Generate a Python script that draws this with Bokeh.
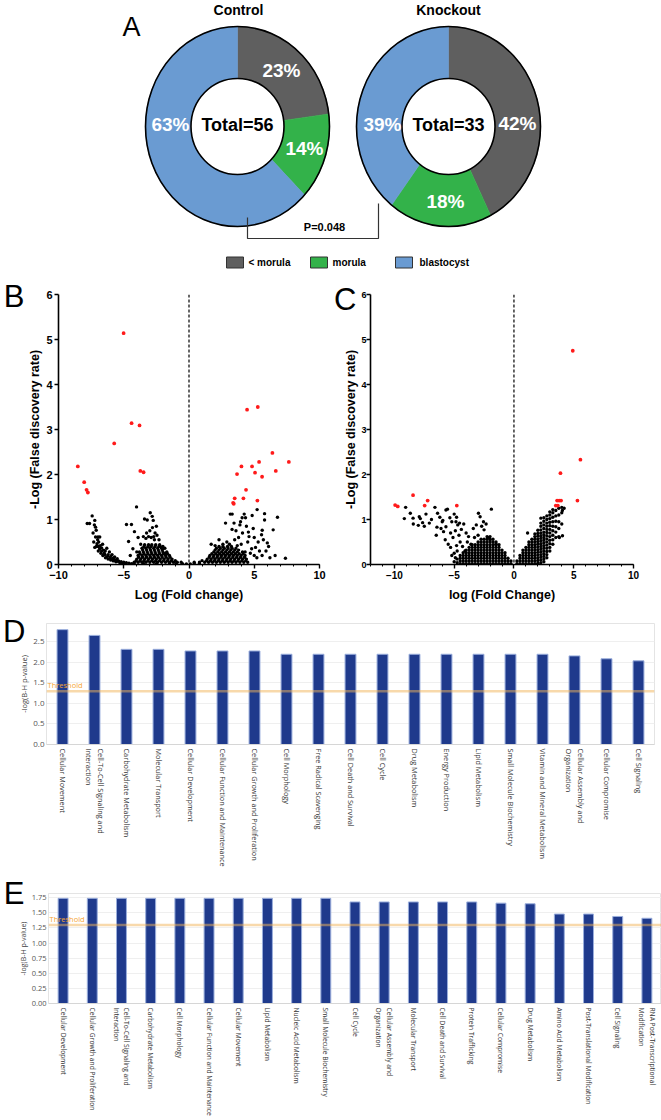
import numpy as np
from bokeh.plotting import figure
from bokeh.layouts import column, row
from bokeh.models import (Range1d, FactorRange, FixedTicker, Span, Label, NumeralTickFormatter,
                          LinearAxis, CustomJSTickFormatter)
from bokeh.core.properties import value
from bokeh.embed import file_html
from bokeh.resources import INLINE

# ------------------------------------------------------------------ data
stages = ["< morula", "morula", "blastocyst"]
stage_colors = ["#5f5f5f", "#33b24a", "#6a9bd2"]
control_pct = [23, 14, 63]
knockout_pct = [42, 18, 39]
control_total = 56
knockout_total = 33
p_text = "P=0.048"

b_red = [(-8.52, 2.18), (-8.03, 1.83), (-7.85, 1.66), (-7.75, 1.60), (-5.01, 5.14), (-5.73, 2.69),
         (-4.40, 3.14), (-3.79, 3.09), (-3.73, 2.08), (-3.48, 2.05), (4.45, 3.44), (5.27, 3.50),
         (6.39, 2.48), (7.65, 2.28), (5.37, 2.28), (4.02, 2.18), (4.83, 2.18), (3.68, 2.01),
         (5.06, 2.04), (6.65, 2.08), (5.60, 1.95), (4.37, 1.66), (3.50, 1.47), (4.17, 1.47),
         (3.38, 1.37), (3.43, 1.35), (5.24, 1.42)]

b_black_sparse = [
    (-7.42, 1.08), (-7.22, 0.98), (-7.80, 0.91), (-7.62, 0.91), (-7.16, 0.83), (-7.11, 0.76), (-7.35, 0.70), (-7.25, 0.88),
    (-7.16, 0.61), (-6.98, 0.61), (-6.84, 0.61), (-7.00, 0.55), (-7.30, 0.50), (-6.92, 0.50), (-7.05, 0.46), (-6.62, 0.45),
    (-6.80, 0.42), (-7.10, 0.40), (-6.95, 0.40), (-7.22, 0.38), (-6.70, 0.37), (-6.30, 0.36), (-6.85, 0.35), (-6.55, 0.32),
    (-6.42, 0.30), (-6.95, 0.30), (-6.70, 0.30), (-6.10, 0.28), (-6.50, 0.25), (-6.75, 0.25), (-6.20, 0.22), (-5.90, 0.22),
    (-6.45, 0.22), (-6.60, 0.20), (-6.00, 0.18), (-6.25, 0.18), (-5.70, 0.17), (-6.40, 0.15), (-5.80, 0.14), (-6.05, 0.14),
    (-5.50, 0.13), (-6.20, 0.12), (-5.85, 0.11), (-5.60, 0.10), (-6.00, 0.10), (-5.65, 0.09), (-5.40, 0.08), (-5.80, 0.08),
    (-5.45, 0.07), (-5.20, 0.06), (-5.60, 0.06), (-5.00, 0.05), (-4.80, 0.04), (-5.30, 0.04), (-4.60, 0.03), (-5.10, 0.03),
    (-4.40, 0.02), (-4.90, 0.02),
    (-4.79, 0.89), (-4.41, 0.89), (-4.02, 1.28), (-4.18, 0.73), (-2.97, 1.15), (-3.41, 1.01), (-3.20, 0.99), (-2.82, 1.07),
    (-2.74, 0.98), (-4.63, 0.51), (-3.90, 0.60), (-3.50, 0.62), (-3.30, 0.58), (-3.10, 0.62), (-2.90, 0.60), (-2.70, 0.62),
    (-2.60, 0.70), (-2.50, 0.85), (-2.65, 0.55), (-3.70, 0.45), (-4.30, 0.35), (-4.00, 0.28), (-2.30, 0.55), (-2.20, 0.40),
    (-2.00, 0.35), (-3.00, 0.75), (-2.80, 0.82), (-3.25, 0.70), (-2.45, 0.65), (-4.50, 0.20), (-1.80, 0.25),
    (7.39, 0.14), (6.78, 1.05), (6.45, 0.77), (5.79, 1.13), (5.79, 0.99), (5.22, 1.22), (4.84, 1.09), (4.23, 1.12),
    (4.33, 1.04), (4.07, 1.04), (3.16, 1.12), (3.31, 1.12), (2.80, 0.92), (4.92, 0.80), (5.61, 0.76), (5.56, 0.66),
    (6.00, 0.48), (6.10, 0.40), (5.90, 0.30), (5.70, 0.55), (5.30, 0.50), (5.00, 0.60), (4.60, 0.62), (4.50, 0.50),
    (4.10, 0.70), (3.80, 0.60), (3.60, 0.75), (3.30, 0.78), (3.90, 0.88), (4.40, 0.85), (5.10, 0.38), (5.40, 0.30),
    (4.80, 0.35), (4.30, 0.28), (2.30, 0.55), (2.60, 0.45), (2.00, 0.42), (1.70, 0.45), (2.90, 0.50), (3.10, 0.45),
    (6.60, 0.20), (6.20, 0.15), (5.60, 0.20), (5.00, 0.20), (3.50, 0.55), (3.70, 0.42), (4.00, 0.45), (4.70, 0.25),
    (5.20, 0.15), (3.95, 0.95), (4.55, 0.72), (3.45, 0.92),
    (-4.20, 0.02), (-3.50, 0.02), (-2.50, 0.02), (-1.50, 0.02), (-1.00, 0.02), (-0.50, 0.02), (-0.20, 0.01), (0.10, 0.01),
    (0.40, 0.02), (0.80, 0.02),
]

b_black_rows = [
    (0.05, [-4.2, -3.9, -3.6, -3.3, -3.0, -2.7, -2.4, -2.1, -1.8, -1.5, -1.2, -0.9, -0.6,
            0.4, 0.8, 1.2, 1.5, 1.8, 2.1, 2.4, 2.7, 3.0, 3.3, 3.6, 3.9, 4.2, 4.5]),
    (0.085, [-4.05, -3.75, -3.45, -3.15, -2.85, -2.55, -2.25, -1.95, -1.65, -1.35, -1.05,
             1.0, 1.35, 1.65, 1.95, 2.25, 2.55, 2.85, 3.15, 3.45, 3.75, 4.05, 4.35]),
    (0.12, [-4.0, -3.7, -3.4, -3.1, -2.8, -2.5, -2.2, -1.9, -1.6, -1.3,
            1.4, 1.7, 2.0, 2.3, 2.6, 2.9, 3.2, 3.5, 3.8, 4.1, 4.4]),
    (0.16, [-3.85, -3.55, -3.25, -2.95, -2.65, -2.35, -2.05, -1.75, -1.45,
            1.55, 1.85, 2.15, 2.45, 2.75, 3.05, 3.35, 3.65, 3.95, 4.25]),
    (0.20, [-3.9, -3.6, -3.3, -3.0, -2.7, -2.4, -2.1, -1.8, -1.5,
            1.6, 1.9, 2.2, 2.5, 2.8, 3.1, 3.4, 3.7, 4.0, 4.3]),
    (0.24, [-3.75, -3.45, -3.15, -2.85, -2.55, -2.25, -1.95, -1.65,
            1.75, 2.05, 2.35, 2.65, 2.95, 3.25, 3.55, 3.85, 4.15]),
    (0.28, [-3.8, -3.5, -3.2, -2.9, -2.6, -2.3, -2.0, -1.7,
            1.9, 2.2, 2.5, 2.8, 3.1, 3.4, 3.7, 4.1]),
    (0.32, [-3.55, -3.25, -2.95, -2.65, -2.35, -2.05,
            2.0, 2.3, 2.6, 2.9, 3.2, 3.5, 3.8]),
    (0.36, [-3.6, -3.3, -3.0, -2.7, -2.4, -2.1, -1.85,
            2.1, 2.4, 2.7, 3.0, 3.3, 3.6]),
    (0.40, [-3.45, -3.15, -2.9, -2.6, -2.3, -2.0,
            2.3, 2.6, 2.95, 3.25]),
    (0.44, [-3.4, -3.1, -2.85, -2.55, -2.25]),
]

c_red = [(4.92, 4.75), (5.56, 2.33), (3.89, 2.03), (5.31, 1.42), (3.61, 1.42), (3.78, 1.42), (3.94, 1.42),
         (3.50, 1.31), (3.67, 1.31), (-8.44, 1.54), (-7.22, 1.42), (-7.47, 1.31), (-9.94, 1.32),
         (-9.72, 1.29), (-4.78, 1.31)]

c_black_sparse = [
    (-9.06, 1.27), (-8.67, 1.14), (-8.44, 1.03), (-9.17, 1.02), (-8.42, 0.90), (-8.00, 0.87), (-7.92, 1.06), (-7.83, 1.02),
    (-7.64, 0.93), (-7.36, 1.12), (-7.08, 0.92), (-6.61, 1.27), (-6.39, 1.14), (-6.44, 0.83), (-6.20, 1.05), (-6.00, 0.95),
    (-5.69, 1.21), (-5.56, 1.23), (-5.36, 1.04), (-5.69, 0.84), (-5.89, 0.73), (-6.50, 0.65), (-5.75, 0.55), (-5.20, 0.95),
    (-5.00, 1.12), (-4.80, 1.05), (-4.70, 0.88), (-4.90, 0.75), (-5.30, 0.70), (-5.10, 0.60), (-4.60, 0.65), (-4.40, 0.78),
    (-4.20, 0.90), (-4.00, 0.70), (-3.80, 0.62), (-2.97, 1.14), (-2.83, 1.06), (-1.89, 1.23), (-2.33, 0.90), (-2.50, 0.77),
    (-2.70, 0.85), (-3.00, 0.65), (-3.30, 0.60), (-2.20, 0.60), (-2.00, 0.55), (-1.50, 0.45), (-5.50, 0.45), (-5.30, 0.38),
    (-4.80, 0.42), (-4.50, 0.50), (-4.30, 0.40), (-3.60, 0.45), (-4.10, 0.30), (-7.50, 0.85), (-6.90, 1.00), (-6.10, 0.80),
    (-5.95, 0.98), (-4.85, 0.95), (-4.55, 0.92), (-3.40, 0.80), (-2.55, 0.95), (-3.15, 0.88), (-4.75, 0.30), (-5.00, 0.25),
    (-3.90, 0.50), (-4.90, 0.15), (-5.20, 0.20),
    (4.20, 1.25), (4.05, 1.20), (2.25, 1.03), (1.14, 0.70), (4.06, 0.64), (3.80, 0.60),
]

c_black_cols = [
    (-5.0, [0.06]),
    (-4.75, [0.04, 0.12]),
    (-4.5, [0.02, 0.08, 0.14, 0.20]),
    (-4.25, [0.02, 0.08, 0.14, 0.20, 0.26]),
    (-4.0, [0.02, 0.08, 0.14, 0.20, 0.26, 0.32]),
    (-3.75, [0.02, 0.08, 0.14, 0.20, 0.26, 0.32, 0.38]),
    (-3.5, [0.02, 0.08, 0.14, 0.20, 0.26, 0.32, 0.38, 0.44]),
    (-3.25, [0.02, 0.08, 0.14, 0.20, 0.26, 0.32, 0.38, 0.44]),
    (-3.0, [0.02, 0.08, 0.14, 0.20, 0.26, 0.32, 0.38, 0.44, 0.50]),
    (-2.75, [0.02, 0.08, 0.14, 0.20, 0.26, 0.32, 0.38, 0.44, 0.50, 0.56]),
    (-2.5, [0.02, 0.08, 0.14, 0.20, 0.26, 0.32, 0.38, 0.44, 0.50, 0.56]),
    (-2.25, [0.02, 0.08, 0.14, 0.20, 0.26, 0.32, 0.38, 0.44, 0.50, 0.56, 0.62]),
    (-2.0, [0.02, 0.08, 0.14, 0.20, 0.26, 0.32, 0.38, 0.44, 0.50, 0.56, 0.62]),
    (-1.75, [0.02, 0.08, 0.14, 0.20, 0.26, 0.32, 0.38, 0.44, 0.50, 0.56]),
    (-1.5, [0.02, 0.08, 0.14, 0.20, 0.26, 0.32, 0.38, 0.44, 0.50]),
    (-1.25, [0.02, 0.08, 0.14, 0.20, 0.26, 0.32, 0.38, 0.44]),
    (-1.0, [0.02, 0.08, 0.14, 0.20, 0.26, 0.32]),
    (-0.75, [0.02, 0.08, 0.14, 0.20, 0.26]),
    (-0.5, [0.02, 0.08, 0.14]),
    (-0.25, [0.02, 0.08]),
    (0.25, [0.02, 0.08]),
    (0.5, [0.02, 0.08, 0.14, 0.20]),
    (0.75, [0.02, 0.08, 0.14, 0.20, 0.26, 0.32]),
    (1.0, [0.02, 0.08, 0.14, 0.20, 0.26, 0.32, 0.38]),
    (1.25, [0.02, 0.08, 0.14, 0.20, 0.26, 0.32, 0.38, 0.44, 0.50]),
    (1.5, [0.02, 0.08, 0.14, 0.20, 0.26, 0.32, 0.38, 0.44, 0.50, 0.56]),
    (1.75, [0.02, 0.08, 0.14, 0.20, 0.26, 0.32, 0.38, 0.44, 0.50, 0.56, 0.62, 0.68]),
    (2.0, [0.03, 0.09, 0.15, 0.21, 0.27, 0.33, 0.39, 0.45, 0.51, 0.57, 0.63, 0.69, 0.76]),
    (2.25, [0.04, 0.10, 0.16, 0.22, 0.28, 0.34, 0.40, 0.46, 0.52, 0.58, 0.64, 0.70, 0.77, 0.85, 0.92]),
    (2.5, [0.06, 0.12, 0.18, 0.24, 0.30, 0.36, 0.42, 0.48, 0.54, 0.60, 0.66, 0.72, 0.80, 0.88, 0.96, 1.04]),
    (2.75, [0.15, 0.22, 0.29, 0.36, 0.43, 0.50, 0.57, 0.64, 0.71, 0.78, 0.85, 0.92, 1.00, 1.08]),
    (3.0, [0.30, 0.38, 0.46, 0.54, 0.62, 0.70, 0.78, 0.86, 0.94, 1.02, 1.10, 1.17]),
    (3.25, [0.45, 0.55, 0.65, 0.75, 0.85, 0.95, 1.05, 1.15, 1.22]),
    (3.5, [0.60, 0.72, 0.84, 0.96, 1.08, 1.20]),
    (3.75, [0.62, 0.80, 0.95, 1.10, 1.25]),
    (4.0, [0.90, 1.15, 1.27]),
]

d_labels = ["Cellular Movement", "Cell-To-Cell Signaling and\nInteraction", "Carbohydrate Metabolism",
            "Molecular Transport", "Cellular Development", "Cellular Function and Maintenance",
            "Cellular Growth and Proliferation", "Cell Morphology", "Free Radical Scavenging",
            "Cell Death and Survival", "Cell Cycle", "Drug Metabolism", "Energy Production",
            "Lipid Metabolism", "Small Molecule Biochemistry", "Vitamin and Mineral Metabolism",
            "Cellular Assembly and\nOrganization", "Cellular Compromise", "Cell Signaling"]
d_values = [2.80, 2.66, 2.32, 2.32, 2.28, 2.28, 2.28, 2.20, 2.20, 2.20, 2.20, 2.20, 2.20, 2.20,
            2.20, 2.20, 2.16, 2.09, 2.04]

e_labels = ["Cellular Development", "Cellular Growth and Proliferation", "Cell-To-Cell Signaling and\nInteraction",
            "Carbohydrate Metabolism", "Cell Morphology", "Cellular Function and Maintenance",
            "Cellular Movement", "Lipid Metabolism", "Nucleic Acid Metabolism", "Small Molecule Biochemistry",
            "Cell Cycle", "Cellular Assembly and\nOrganization", "Molecular Transport", "Cell Death and Survival",
            "Protein Trafficking", "Cellular Compromise", "Drug Metabolism", "Amino Acid Metabolism",
            "Post-Translational Modification", "Cell Signaling", "RNA Post-Transcriptional\nModification"]
e_values = [1.74, 1.74, 1.74, 1.74, 1.74, 1.74, 1.74, 1.74, 1.74, 1.74,
            1.68, 1.68, 1.68, 1.68, 1.68, 1.66, 1.65, 1.48, 1.48, 1.44, 1.41]

threshold = 1.3

ARIAL = "Liberation Sans"
SEGOE = "Open Sans"


def pairs(lst):
    return [a for a, b in lst], [b for a, b in lst]


def from_rows(rows):
    xs, ys = [], []
    for y, xl in rows:
        for x in xl:
            xs.append(x)
            ys.append(y)
    return xs, ys


def from_cols(cols):
    xs, ys = [], []
    for x, yl in cols:
        for y in yl:
            xs.append(x)
            ys.append(y)
    return xs, ys


def add_letter(p, letter, ypos, standoff):
    """Panel letter drawn as the single tick label of an extra, invisible left axis."""
    ax = LinearAxis(ticker=FixedTicker(ticks=[ypos], minor_ticks=[]),
                    formatter=CustomJSTickFormatter(code="return '%s';" % letter),
                    axis_line_color=None, major_tick_line_color=None, minor_tick_line_color=None,
                    major_tick_out=0, major_tick_in=0, minor_tick_out=0, minor_tick_in=0,
                    major_label_standoff=standoff, major_label_text_font=ARIAL,
                    major_label_text_font_size="31px", major_label_text_font_style="normal",
                    major_label_text_color="black")
    p.add_layout(ax, "left")


# ------------------------------------------------------------------ panel A
pA = figure(width=661, height=275, x_range=Range1d(0, 661), y_range=Range1d(275, 0),
            x_axis_type=None, y_axis_type=None, toolbar_location=None,
            output_backend="svg", min_border=0, min_border_left=0, min_border_right=0,
            min_border_top=0, min_border_bottom=0)
pA.outline_line_color = None

RXO, RYO, RXI, RYI = 92, 100, 46.5, 48
centers = [(237, 126), (448, 126)]
label_pos = [[(281, 70), (304, 148), (170, 124)], [(517, 123), (445, 201), (382, 124)]]
totals = [control_total, knockout_total]
for (cx, cy), pcts, lp, tot_n in zip(centers, [control_pct, knockout_pct], label_pos, totals):
    tot = float(sum(pcts))
    edges = np.concatenate([[0.0], np.cumsum(pcts)]) / tot
    xs, ys = [], []
    for f0, f1 in zip(edges[:-1], edges[1:]):
        t = np.linspace(2 * np.pi * f0, 2 * np.pi * f1, 90)
        xs.append(np.concatenate([cx + RXO * np.sin(t), cx + RXI * np.sin(t[::-1])]).tolist())
        ys.append(np.concatenate([cy - RYO * np.cos(t), cy - RYI * np.cos(t[::-1])]).tolist())
    pA.patches(xs, ys, fill_color=stage_colors, line_color=stage_colors, line_width=0.6)
    pA.ellipse(x=[cx], y=[cy], width=2 * RXO, height=2 * RYO, fill_color=None,
               line_color="black", line_width=1.6)
    pA.ellipse(x=[cx], y=[cy], width=2 * RXI, height=2 * RYI, fill_color="white",
               line_color="black", line_width=1.6)
    pA.text(x=[p[0] for p in lp], y=[p[1] for p in lp], text=[f"{v}%" for v in pcts],
            text_color="white", text_font=value(ARIAL), text_font_style="bold",
            text_font_size="19px", text_align="center", text_baseline="middle")
    pA.text(x=[cx], y=[cy - 2], text=[f"Total={tot_n}"], text_color="black",
            text_font=value(ARIAL), text_font_style="bold", text_font_size="18px",
            text_align="center", text_baseline="middle")

pA.text(x=[238, 448], y=[9, 9], text=["Control", "Knockout"], text_font=value(ARIAL),
        text_font_style="bold", text_font_size="14px", text_align="center", text_baseline="middle")
pA.text(x=[122], y=[26], text=["A"], text_font=value(ARIAL), text_font_size="27px",
        text_baseline="alphabetic", text_align="left")
pA.line(x=[247, 247, 378, 378], y=[217, 238, 238, 203], line_color="#333333", line_width=1.2)
pA.text(x=[324], y=[226], text=[p_text], text_font=value(ARIAL), text_font_style="bold",
        text_font_size="11px", text_align="center", text_baseline="middle")
pA.rect(x=[234.5, 318.5, 403.5], y=[262, 262, 262], width=17, height=11,
        fill_color=stage_colors, line_color="#333333", line_width=1)
pA.text(x=[248, 332, 419], y=[262, 262, 262], text=stages, text_font=value(ARIAL),
        text_font_style="bold", text_font_size="10px", text_align="left", text_baseline="middle")


# ------------------------------------------------------------------ volcano panels
def volcano(width, height, xr, borders, xlabel, tick_px, ytick_px, black_xy, red_xy,
            ytick_standoff, ylabel_standoff):
    left, right, top, bottom = borders
    p = figure(width=width, height=height, x_range=Range1d(*xr), y_range=Range1d(0, 6),
               toolbar_location=None, output_backend="svg",
               min_border_left=left, min_border_right=right, min_border_top=top,
               min_border_bottom=bottom)
    p.grid.visible = False
    p.outline_line_color = None
    p.xaxis.ticker = FixedTicker(ticks=[-10, -5, 0, 5, 10],
                                 minor_ticks=list(range(int(xr[0]), int(xr[1]) + 1)))
    p.yaxis.ticker = FixedTicker(ticks=[0, 1, 2, 3, 4, 5, 6], minor_ticks=[])
    p.axis.axis_line_width = 1.6
    p.axis.axis_line_color = "black"
    p.axis.major_tick_line_width = 1.4
    p.axis.major_tick_out = 4
    p.axis.major_tick_in = 0
    p.axis.minor_tick_out = 2
    p.axis.minor_tick_in = 0
    p.axis.minor_tick_line_width = 1
    p.axis.major_label_text_font = ARIAL
    p.axis.major_label_text_font_style = "bold"
    p.axis.major_label_text_color = "black"
    p.xaxis.major_label_text_font_size = tick_px
    p.yaxis.major_label_text_font_size = ytick_px
    p.xaxis.major_label_standoff = 2
    p.yaxis.major_label_standoff = ytick_standoff
    p.axis.axis_label_text_font = ARIAL
    p.axis.axis_label_text_font_style = "bold"
    p.axis.axis_label_text_font_size = "12.5px"
    p.axis.axis_label_text_color = "black"
    p.xaxis.axis_label_standoff = 6
    p.yaxis.axis_label_standoff = ylabel_standoff
    p.xaxis.axis_label = xlabel
    p.yaxis.axis_label = "-Log (False discovery rate)"
    bx, by = black_xy
    p.scatter(x=bx, y=by, marker="circle", size=3.4, fill_color="black", line_color=None)
    rx, ry = red_xy
    p.scatter(x=rx, y=ry, marker="circle", size=3.8, fill_color="#ff1a1a", line_color=None)
    p.add_layout(Span(location=0, dimension="height", line_color="black", line_dash="3 2",
                      line_width=1.2))
    return p


bx1, by1 = pairs(b_black_sparse)
bx2, by2 = from_rows(b_black_rows)
pB = volcano(330, 335, (-10, 10), (58, 11, 19, 46), "Log (Fold change)", "11px", "11px",
             (bx1 + bx2, by1 + by2), pairs(b_red), 2, 1)
add_letter(pB, "B", 5.96, 1)

cx1, cy1 = pairs(c_black_sparse)
cx2, cy2 = from_cols(c_black_cols)
pC = volcano(331, 335, (-12, 10), (40, 28, 17, 45), "log (Fold Change)", "10px", "9px",
             (cx1 + cx2, cy1 + cy2), pairs(c_red), 0, 0)
add_letter(pC, "C", 5.88, -15)


# ------------------------------------------------------------------ pathway bar panels
def pathway(height, labels, vals, ymax, ticks, fmt, borders, label_px, tick_px, ylabel_px):
    left, right, top, bottom = borders
    p = figure(width=661, height=height, x_range=FactorRange(factors=labels),
               y_range=Range1d(0, ymax), toolbar_location=None, output_backend="svg",
               min_border_left=left, min_border_right=right, min_border_top=top,
               min_border_bottom=bottom)
    p.vbar(x=labels, top=vals, width=0.34, fill_color="#1f3a8c", line_color="#9aaedc",
           line_width=1)
    p.xgrid.visible = False
    p.ygrid.grid_line_color = "#efefef"
    p.outline_line_color = "#e4e4e4"
    p.yaxis.ticker = FixedTicker(ticks=ticks)
    p.yaxis.formatter = NumeralTickFormatter(format=fmt)
    p.axis.major_tick_line_color = None
    p.axis.minor_tick_line_color = None
    p.axis.major_tick_out = 0
    p.axis.major_tick_in = 0
    p.axis.minor_tick_out = 0
    p.axis.minor_tick_in = 0
    p.yaxis.axis_line_color = "#e4e4e4"
    p.xaxis.axis_line_color = "#d6d6d6"
    p.yaxis.major_label_text_font = SEGOE
    p.yaxis.major_label_text_font_size = tick_px
    p.yaxis.major_label_text_color = "#555555"
    p.yaxis.major_label_standoff = 2
    p.yaxis.axis_label = "-log(B-H p-value)"
    p.yaxis.axis_label_text_font = SEGOE
    p.yaxis.axis_label_text_font_size = ylabel_px
    p.yaxis.axis_label_text_font_style = "normal"
    p.yaxis.axis_label_text_color = "#444444"
    p.yaxis.axis_label_standoff = 1
    p.xaxis.major_label_orientation = "vertical"
    p.xaxis.major_label_text_font = SEGOE
    p.xaxis.major_label_text_font_size = label_px
    p.xaxis.major_label_text_color = "#333333"
    p.xaxis.major_label_standoff = 4
    p.add_layout(Span(location=threshold, dimension="width", line_color="#f2b457",
                      line_alpha=0.5, line_width=2.5))
    p.add_layout(Label(x=0, y=threshold, x_offset=1, y_offset=1, text="Threshold",
                       text_font=SEGOE, text_font_size="7.5px", text_color="#f5a534",
                       text_baseline="bottom"))
    return p


pD = pathway(262, d_labels, d_values, 2.95, [0, 0.5, 1.0, 1.5, 2.0, 2.5], "0.0",
             (46, 7, 13, 128), "7.3px", "8px", "7.5px")
add_letter(pD, "D", 2.76, -9)
pE = pathway(248, e_labels, e_values, 1.82, [0, 0.25, 0.5, 0.75, 1.0, 1.25, 1.5, 1.75], "0.00",
             (48, 0, 21, 117), "6.7px", "7.5px", "7px")
add_letter(pE, "E", 1.815, -9)

layout = column(row(pA), row(pB, pC), row(pD), row(pE))
open("out.html", "w").write(file_html(layout, INLINE))
